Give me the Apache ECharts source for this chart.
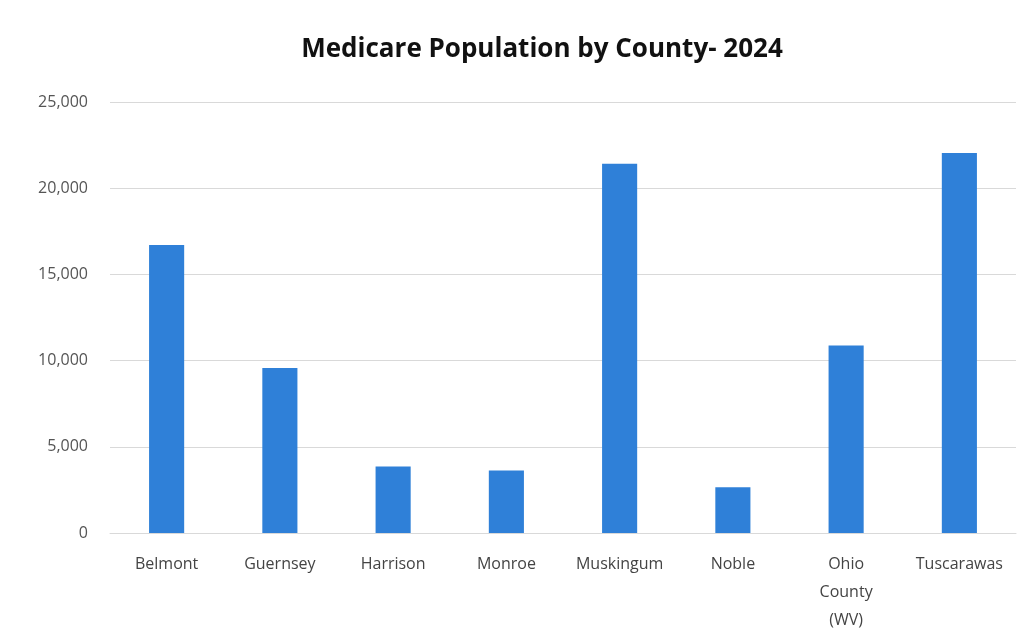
<!DOCTYPE html>
<html>
<head>
<meta charset="utf-8">
<script src="https://cdn.jsdelivr.net/npm/echarts@6/dist/echarts.min.js"></script>
<style>
  html, body { margin: 0; padding: 0; background: #fff; }
  #chart { width: 1032px; height: 642px; }
</style>
</head>
<body>
<div id="chart"></div>
<script>
const counties = ["Belmont", "Guernsey", "Harrison", "Monroe", "Muskingum", "Noble", "Ohio\nCounty\n(WV)", "Tuscarawas"];
const medicarePop = [16700, 9570, 3860, 3630, 21420, 2650, 10880, 22040];
const yTicks = [0, 5000, 10000, 15000, 20000, 25000];

const chart = echarts.init(document.getElementById("chart"));

chart.setOption({
  animation: false,
  backgroundColor: "#fff",
  title: {
    text: "Medicare Population by County- 2024",
    left: 537,
    textAlign: "center",
    top: 32,
    textStyle: { fontFamily: "Open Sans", fontSize: 26, fontWeight: "bold", color: "#111" }
  },
  grid: { left: 110, right: 16, top: 102, bottom: 109, containLabel: false },
  xAxis: {
    type: "category",
    data: counties,
    axisLine: { show: true, lineStyle: { color: "#d9d9d9" } },
    axisTick: { show: false },
    axisLabel: {
      interval: 0,
      margin: 17,
      color: "#444",
      fontFamily: "Open Sans",
      fontSize: 16,
      lineHeight: 28
    }
  },
  yAxis: {
    type: "value",
    min: yTicks[0],
    max: yTicks[yTicks.length - 1],
    interval: yTicks[1] - yTicks[0],
    axisLine: { show: false },
    axisTick: { show: false },
    axisLabel: {
      margin: 22,
      color: "#555",
      fontFamily: "Open Sans",
      fontSize: 16,
      formatter: v => v.toLocaleString("en-US")
    },
    splitLine: { lineStyle: { color: "#d9d9d9" } }
  },
  series: [
    {
      type: "bar",
      data: medicarePop,
      barWidth: "31%",
      itemStyle: { color: "#2f80d8" }
    }
  ]
});
</script>
</body>
</html>
